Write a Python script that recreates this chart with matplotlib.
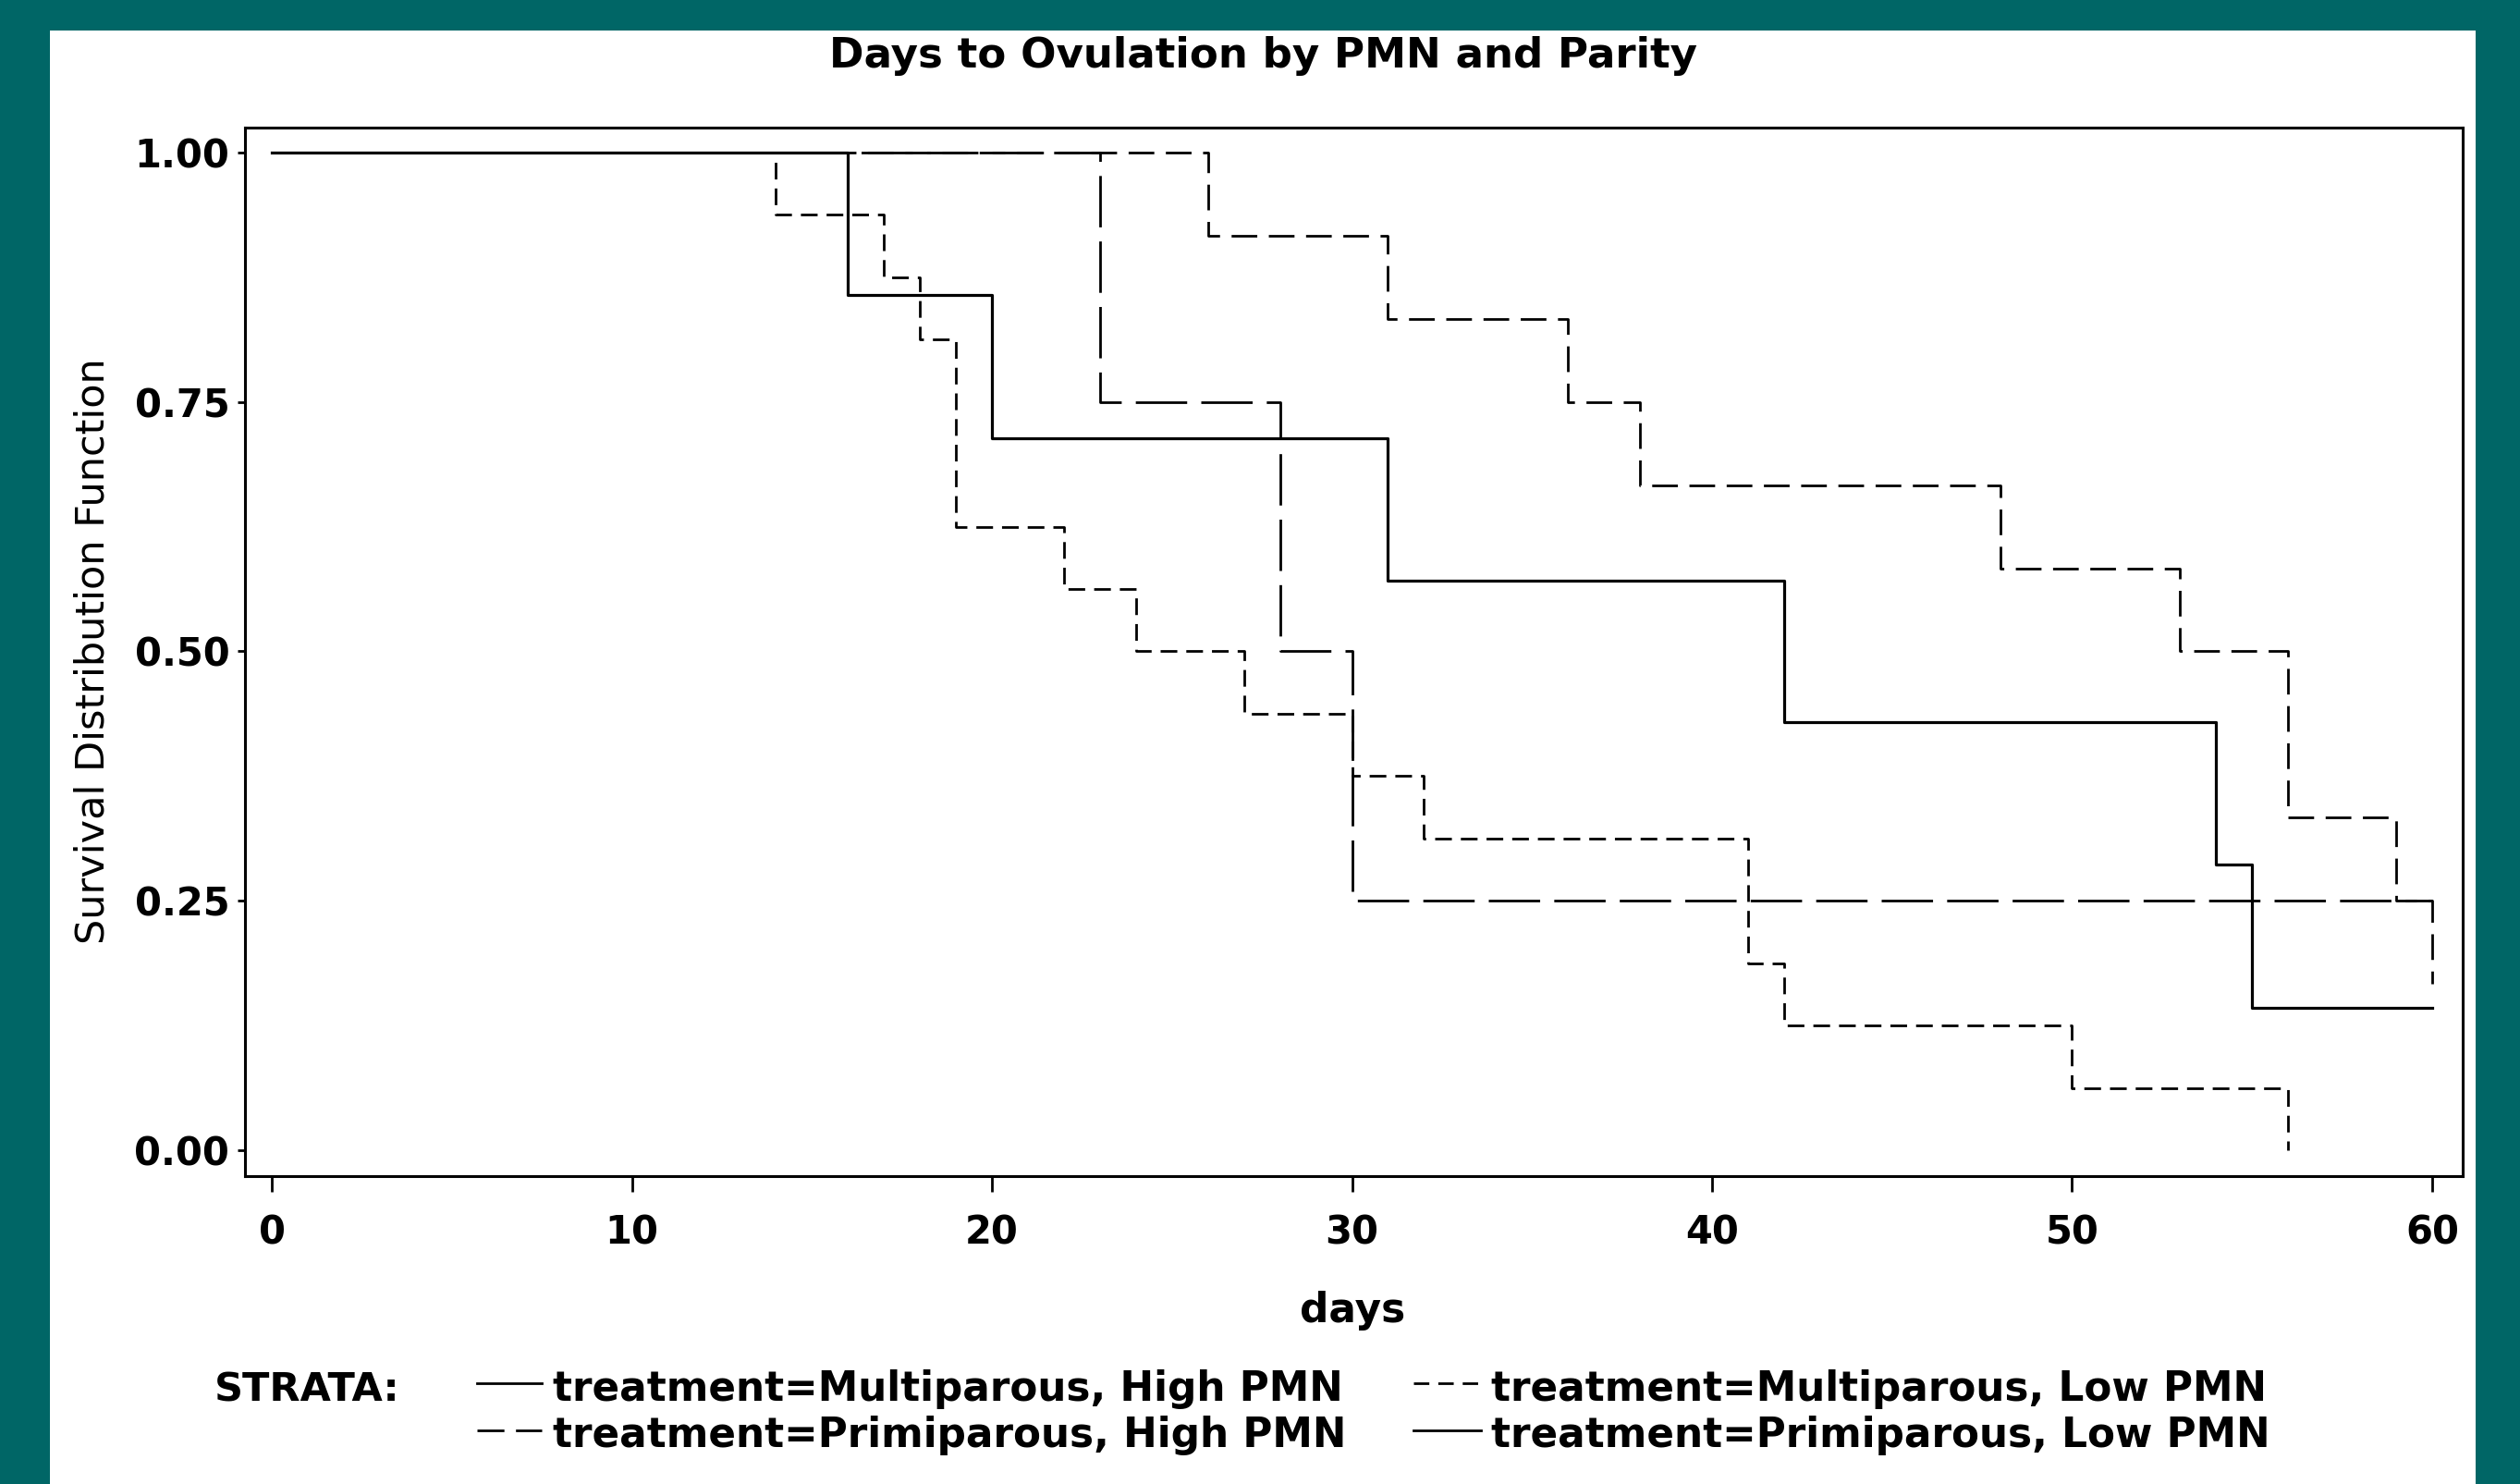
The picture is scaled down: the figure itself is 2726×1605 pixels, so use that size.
import matplotlib
matplotlib.use("Agg")
import matplotlib.pyplot as plt
from matplotlib.lines import Line2D
from matplotlib.patches import Rectangle

plt.rcParams['font.family'] = ['DejaVu Sans']
plt.rcParams['lines.scale_dashes'] = False

# Kaplan-Meier steps
mh_days = [0, 16, 20, 31, 42, 54, 55, 60]
mh_surv = [1.0, 0.857, 0.714, 0.571, 0.429, 0.286, 0.143, 0.143]

ml_days = [0, 14, 17, 18, 19, 22, 24, 27, 30, 32, 41, 42, 50, 56]
ml_surv = [1.0, 0.9375, 0.875, 0.8125, 0.625, 0.5625, 0.5, 0.4375, 0.375, 0.3125,
           0.1875, 0.125, 0.0625, 0.0]

ph_days = [0, 23, 28, 30, 60]
ph_surv = [1.0, 0.75, 0.5, 0.25, 0.25]

pl_days = [0, 26, 31, 36, 38, 48, 53, 56, 59, 60]
pl_surv = [1.0, 0.9167, 0.8333, 0.75, 0.6667, 0.5833, 0.5, 0.3333, 0.25, 0.1667]

labels = ["treatment=Multiparous, High PMN", "treatment=Primiparous, High PMN",
          "treatment=Multiparous, Low PMN", "treatment=Primiparous, Low PMN"]

x_ticks = [0, 10, 20, 30, 40, 50, 60]
y_ticks = [0.0, 0.25, 0.5, 0.75, 1.0]

W, H = 2726, 1605
fig = plt.figure(figsize=(W / 100, H / 100), dpi=100)
fig.patch.set_facecolor('#006666')
fig.patches.append(Rectangle((54 / W, 0), (2678 - 54) / W, 1 - 33 / H,
                             transform=fig.transFigure, facecolor='white',
                             edgecolor='none', zorder=-10))

ax = fig.add_axes([265 / W, 1 - 1272 / H, (2664 - 265) / W, (1272 - 138) / H])
ax.set_facecolor('white')

lw = 2.0
ax.step(mh_days, mh_surv, where='post', color='black', lw=lw + 0.3)
ax.step(ml_days, ml_surv, where='post', color='black', lw=lw, dashes=(13, 7))
ax.step(ph_days, ph_surv, where='post', color='black', lw=lw, dashes=(40, 11))
ax.step(pl_days, pl_surv, where='post', color='black', lw=lw, dashes=(20, 9))

ax.set_xlim(-0.75, 60.85)
ax.set_ylim(-0.026, 1.025)
ax.set_xticks(x_ticks)
ax.set_yticks(y_ticks)
ax.set_xticklabels([str(t) for t in x_ticks])
ax.set_yticklabels(["%.2f" % t for t in y_ticks])
for s in ax.spines.values():
    s.set_linewidth(2.2)
ax.tick_params(axis='x', length=12, width=2.0, pad=17, labelsize=30)
ax.tick_params(axis='y', length=6, width=2.0, pad=6, labelsize=30)
for t in ax.get_xticklabels() + ax.get_yticklabels():
    t.set_fontweight('bold')

fig.text(1366 / W, 1 - 73 / H, "Days to Ovulation by PMN and Parity",
         ha='center', va='baseline', fontsize=32.5, fontweight='bold')
fig.text(101 / W, 1 - 704 / H, "Survival Distribution Function",
         ha='center', va='center', rotation=90, fontsize=31)
fig.text(1463 / W, 1 - 1430 / H, "days", ha='center', va='baseline',
         fontsize=31.5, fontweight='bold')

# legend block
fig.text(232 / W, 1 - 1515 / H, "STRATA:", ha='left', va='baseline',
         fontsize=31, fontweight='bold')
leg_styles = [None, (21, 9), (12, 7), None]
line_x = [(516, 586), (516, 586), (1529, 1602), (1529, 1602)]
text_x = [598, 598, 1613, 1613]
line_y = [1496, 1547, 1496, 1547]
base_y = [1515, 1565, 1515, 1565]
for i, lab in enumerate(labels):
    ln = Line2D([line_x[i][0] / W, line_x[i][1] / W],
                [1 - line_y[i] / H, 1 - line_y[i] / H],
                transform=fig.transFigure, color='black', lw=2.0)
    if leg_styles[i] is not None:
        ln.set_dashes(leg_styles[i])
    fig.lines.append(ln)
    fig.text(text_x[i] / W, 1 - base_y[i] / H, lab, ha='left', va='baseline',
             fontsize=31.5, fontweight='bold')

fig.savefig("out.png", dpi=100, facecolor=fig.get_facecolor())
